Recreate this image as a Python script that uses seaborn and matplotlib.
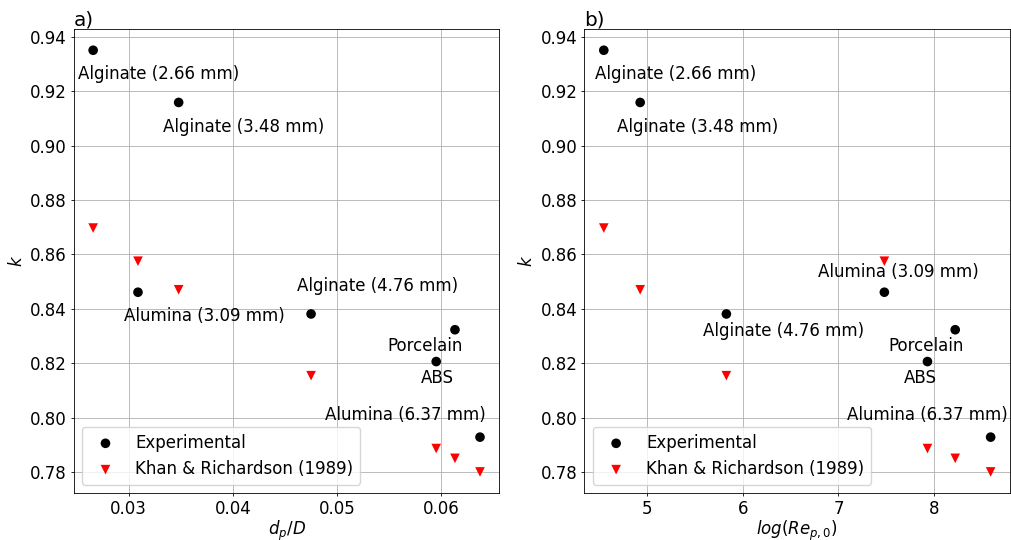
import matplotlib
matplotlib.use("Agg")
import matplotlib.pyplot as plt
import seaborn as sns
import pandas as pd

# particle labels (same order in both panels)
labels = ["Alginate (2.66 mm)", "Alginate (3.48 mm)", "Alumina (3.09 mm)",
          "Alginate (4.76 mm)", "Porcelain", "ABS", "Alumina (6.37 mm)"]

dp_D = [0.0266, 0.0348, 0.0309, 0.0475, 0.0613, 0.0595, 0.0637]
log_re = [4.55, 4.93, 7.48, 5.83, 8.22, 7.93, 8.59]
k_exp = [0.9351, 0.9159, 0.8461, 0.8381, 0.8323, 0.8206, 0.7928]
k_kr = [0.8697, 0.8470, 0.8575, 0.8154, 0.7850, 0.7886, 0.7800]

# label offsets (pixels) for each panel
offs_a = [(65, -24), (65, -25), (66, -24), (66, 28), (-30, -16), (1, -16), (-75, 22)]
offs_b = [(72, -24), (57, -25), (14, 20), (57, -17), (-29, -16), (-7, -16), (-63, 22)]

df = pd.DataFrame({"label": labels, "dp_D": dp_D, "log_re": log_re,
                   "k_exp": k_exp, "k_kr": k_kr})

plt.rcParams.update({
    "font.size": 12,
    "axes.linewidth": 0.6,
    "xtick.major.size": 2.5, "ytick.major.size": 2.5,
    "xtick.major.width": 0.6, "ytick.major.width": 0.6,
    "xtick.major.pad": 2.5, "ytick.major.pad": 2.5,
})
fig, axes = plt.subplots(1, 2, figsize=(10.11, 5.4), dpi=100)
fig.subplots_adjust(left=0.073, right=0.999, bottom=0.087, top=0.946, wspace=0.2)

panels = [("dp_D", "$d_p/D$", "a)", offs_a), ("log_re", "$log(Re_{p,0})$", "b)", offs_b)]
for ax, (xcol, xlab, title, offs) in zip(axes, panels):
    sns.scatterplot(data=df, x=xcol, y="k_exp", ax=ax, color="black", marker="o",
                    s=48, edgecolor="none", label="Experimental", zorder=3)
    sns.scatterplot(data=df, x=xcol, y="k_kr", ax=ax, color="red", marker="v",
                    s=48, edgecolor="none", label="Khan & Richardson (1989)", zorder=3)
    for i, row in df.iterrows():
        ax.annotate(row["label"], (row[xcol], row["k_exp"]), xytext=offs[i],
                    textcoords="offset pixels", ha="center", va="center")
    ax.grid(True, color="#b0b0b0", linewidth=0.6)
    ax.set_axisbelow(True)
    ax.set_xlabel(xlab, labelpad=0.5)
    ax.set_ylabel("$k$", labelpad=3)
    ax.set_title(title, loc="left", pad=2)
    ax.set_yticks([0.78, 0.80, 0.82, 0.84, 0.86, 0.88, 0.90, 0.92, 0.94])
    ax.legend(loc="lower left")

axes[0].set_xticks([0.03, 0.04, 0.05, 0.06])
axes[1].set_xticks([5, 6, 7, 8])

fig.savefig("out.png", dpi=100)
